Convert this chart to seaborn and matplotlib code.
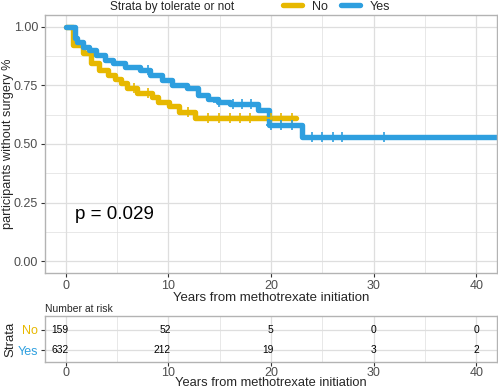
import numpy as np
import pandas as pd
import matplotlib
matplotlib.use("Agg")
import matplotlib.pyplot as plt
from matplotlib.lines import Line2D
import seaborn as sns

# Kaplan-Meier steps
no_time = [0, 0.7, 1.7, 2.5, 3.3, 4.1, 4.8, 5.4, 6.0, 7.0, 8.4, 9.0, 10.1, 11.0, 12.6, 22.4]
no_surv = [1.0, 0.923, 0.889, 0.846, 0.816, 0.795, 0.778, 0.76, 0.74, 0.718, 0.70, 0.68, 0.66, 0.635, 0.61, 0.61]
yes_time = [0, 0.9, 1.1, 1.7, 2.3, 3.0, 3.8, 4.6, 5.8, 7.2, 8.2, 9.4, 10.4, 11.8, 12.9,
            13.9, 14.8, 16.0, 18.7, 19.8, 23.0, 42.0]
yes_surv = [1.0, 0.953, 0.936, 0.915, 0.90, 0.88, 0.86, 0.846, 0.83, 0.816, 0.795, 0.773,
            0.752, 0.74, 0.71, 0.69, 0.68, 0.67, 0.645, 0.58, 0.53, 0.53]

# censoring times
no_cens = [6.7, 8.0, 11.9, 13.9, 14.9, 16.0, 17.0, 18.0, 20.0, 21.0, 22.0]
yes_cens = [8.0, 14.9, 16.3, 17.2, 18.1, 20.0, 21.0, 22.0, 24.0, 25.0, 26.0, 26.9, 31.0]

# number at risk table
risk_times = [0, 10, 20, 30, 40]
risk_no = [159, 52, 5, 0, 0]
risk_yes = [632, 212, 19, 3, 2]

strata = ["No", "Yes"]
colors = {"No": "#E7B800", "Yes": "#2E9FDF"}
pval_text = "p = 0.029"


def level_at(times, surv, t):
    idx = np.searchsorted(times, t, side="right") - 1
    return surv[idx]


sns.set_theme(style="white")
plt.rcParams["font.family"] = ["Liberation Sans", "DejaVu Sans"]

curves = pd.concat([
    pd.DataFrame({"time": no_time, "surv": no_surv, "strata": "No"}),
    pd.DataFrame({"time": yes_time, "surv": yes_surv, "strata": "Yes"}),
])
cens = pd.concat([
    pd.DataFrame({"time": no_cens,
                  "surv": [level_at(no_time, no_surv, t) for t in no_cens],
                  "strata": "No"}),
    pd.DataFrame({"time": yes_cens,
                  "surv": [level_at(yes_time, yes_surv, t) for t in yes_cens],
                  "strata": "Yes"}),
])

W, H = 498, 390
fig = plt.figure(figsize=(W / 100, H / 100), dpi=100)
ax = fig.add_axes([45 / W, 1 - 273 / H, 452 / W, 258 / H])
ax_r = fig.add_axes([45 / W, 1 - 362 / H, 452 / W, 46 / H])

grid_c = "#DEDEDE"
border_c = "#B3B3B3"
tick_c = "#4D4D4D"


def style_axis(a):
    for s in a.spines.values():
        s.set_color(border_c)
        s.set_linewidth(1.0)
    a.set_xlim(-2, 42)
    a.set_xticks([0, 10, 20, 30, 40])
    a.set_xticks([5, 15, 25, 35], minor=True)
    a.grid(which="major", color=grid_c, linewidth=0.9)
    a.grid(which="minor", color=grid_c, linewidth=0.5)
    a.set_axisbelow(True)
    a.tick_params(which="major", length=3, width=0.8, color="#333333",
                  labelcolor=tick_c, labelsize=9, pad=2, bottom=True, left=True)
    a.tick_params(which="minor", length=0)


# main survival panel
sns.lineplot(data=curves, x="time", y="surv", hue="strata", palette=colors,
             hue_order=strata, drawstyle="steps-post", linewidth=3.9,
             estimator=None, sort=False, legend=False, ax=ax)
sns.scatterplot(data=cens, x="time", y="surv", hue="strata", palette=colors,
                hue_order=strata, marker="+", s=55, linewidth=1.2,
                legend=False, ax=ax, zorder=3)
style_axis(ax)
ax.set_ylim(-0.05, 1.05)
ax.set_yticks([0, 0.25, 0.5, 0.75, 1.0])
ax.set_yticks([0.125, 0.375, 0.625, 0.875], minor=True)
ax.set_yticklabels(["0.00", "0.25", "0.50", "0.75", "1.00"])
ax.set_xlabel("Years from methotrexate initiation", fontsize=9.5, labelpad=0)
ax.set_ylabel("participants without surgery %", fontsize=9.2, labelpad=0)
ax.text(0.9, 0.2, pval_text, fontsize=13.5, ha="left", va="center", color="black")

# legend on top
fig.text(172 / W, 1 - 7 / H, "Strata by tolerate or not", fontsize=8.6,
         ha="center", va="center")
handles = [Line2D([], [], color=colors[s], linewidth=3.9) for s in strata]
fig.legend(handles, strata, loc="center left", bbox_to_anchor=(283 / W, 1 - 6.5 / H),
           ncol=2, frameon=False, fontsize=9, handlelength=1.5, handletextpad=0.8,
           columnspacing=1.1, borderpad=0, borderaxespad=0)

# number at risk table
style_axis(ax_r)
ax_r.tick_params(axis="x", pad=0.5)
ax_r.set_ylim(-0.57, 1.67)
ax_r.set_yticks([1, 0])
ax_r.set_yticklabels(strata, fontsize=9)
for lab in ax_r.get_yticklabels():
    lab.set_color(colors[lab.get_text()])
for t, n_no, n_yes in zip(risk_times, risk_no, risk_yes):
    ax_r.annotate(str(n_no), (t, 1), xytext=(2, 0), textcoords="offset points",
                  ha="right", va="center", fontsize=7.4, color="black")
    ax_r.annotate(str(n_yes), (t, 0), xytext=(2, 0), textcoords="offset points",
                  ha="right", va="center", fontsize=7.4, color="black")
ax_r.set_xlabel("Years from methotrexate initiation", fontsize=9.3, labelpad=-1)
ax_r.set_ylabel("Strata", fontsize=9.5, labelpad=1)
ax_r.text(0, 1.04, "Number at risk", transform=ax_r.transAxes, fontsize=7.5,
          ha="left", va="bottom")

fig.savefig("out.png", dpi=100)
